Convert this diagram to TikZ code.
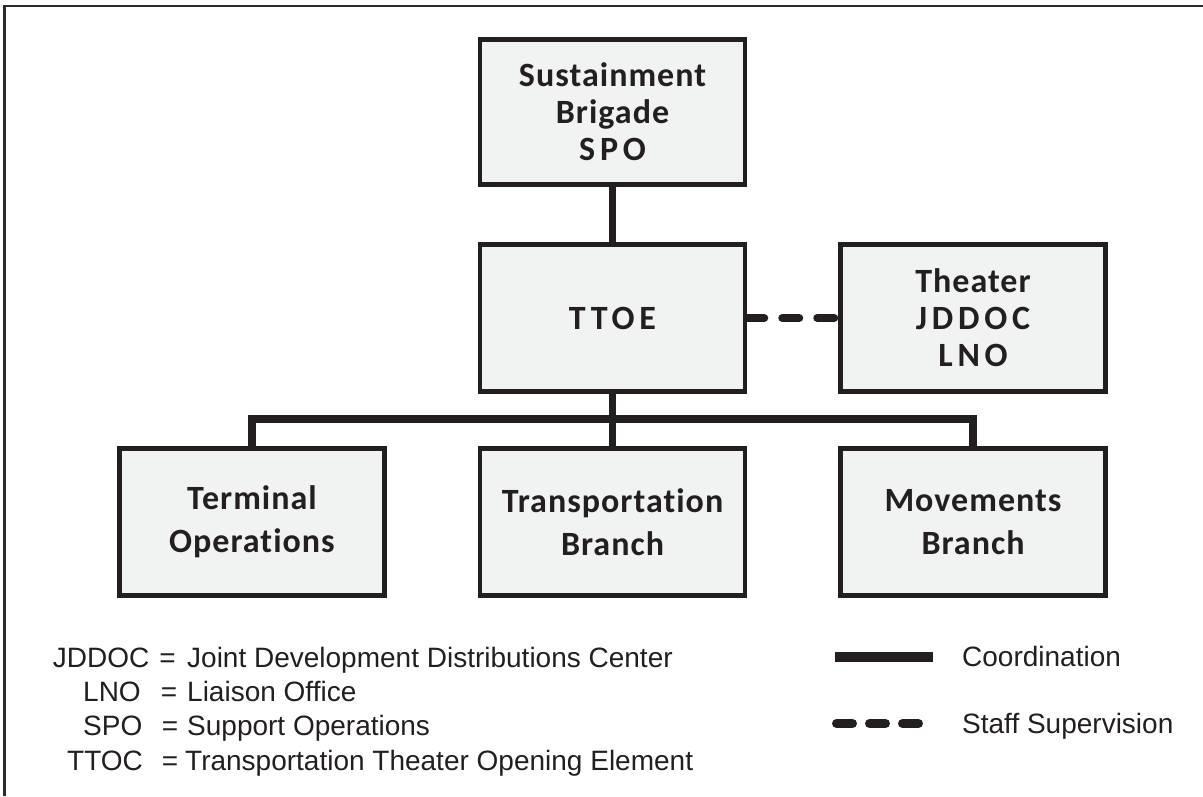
\documentclass[tikz,border=0pt]{standalone}
\usepackage{fontspec}
\setmainfont{Liberation Sans}
\newfontfamily\boxfont[LetterSpace=3,Ligatures=NoCommon]{Carlito}
\newfontfamily\capsfont[LetterSpace=14,Ligatures=NoCommon]{Carlito}
\usetikzlibrary{backgrounds}
\definecolor{ink}{HTML}{231F20}
\definecolor{boxfill}{HTML}{F1F2F2}
\definecolor{framecol}{HTML}{2B2B2B}
\newcommand{\caps}[1]{{\capsfont\bfseries #1}}
\begin{document}
\begin{tikzpicture}[x=1pt,y=-1pt,
  unit/.style={draw=ink, line width=4.5pt, fill=boxfill, minimum width=265pt,
    minimum height=147pt, inner sep=0pt, align=center, text=ink,
    font=\boxfont\bfseries\fontsize{34}{37}\selectfont},
  lowunit/.style={unit, font=\boxfont\bfseries\fontsize{34}{43}\selectfont},
  coordline/.style={draw=ink, line width=7.5pt},
  staffline/.style={draw=ink, line width=8pt, line cap=round, dash pattern=on 17pt off 18pt},
  legtext/.style={text=ink, anchor=base west, inner sep=0pt,
    font=\fontsize{28}{34}\selectfont},
  legeq/.style={legtext, anchor=base},
]
\useasboundingbox (0,0) rectangle (1203,796);

% outer frame (only left and top edges show)
\draw[framecol, line width=2.5pt] (4.5,796) -- (4.5,6) -- (1203,6);

% organisation boxes
\node[unit, minimum height=145pt] (sus) at (612.5,112) {Sustainment\\Brigade\\\caps{SPO}};
\node[unit] (ttoe) at (612.5,318) {\caps{TTOE}};
\node[unit] (thea) at (973,318) {Theater\\\caps{JDDOC}\\\caps{LNO}};
\node[lowunit] (term) at (252,522) {Terminal\\Operations};
\node[lowunit] (trans) at (612.5,522) {Transportation\\Branch};
\node[lowunit] (mov) at (973,522) {Movements\\Branch};

\coordinate (bus) at (612.5,419);

% connectors
\begin{scope}[on background layer]
  \draw[coordline] (sus.south) -- (ttoe.north);
  \draw[coordline] (ttoe.south) -- (trans.north);
  \draw[coordline] (term.north) |- (bus) -| (mov.north);
  \draw[staffline] (ttoe.east) -- (thea.west);
\end{scope}

% abbreviations
\node[legtext] (a1) at (52.7,667) {JDDOC};
\node[legeq]   (e1) at (167.5,667) {=};
\node[legtext] (d1) at (187,667) {Joint Development Distributions Center};
\node[legtext] (a2) at (83,701) {LNO};
\node[legeq]   (e2) at (169,701) {=};
\node[legtext] (d2) at (187,701) {Liaison Office};
\node[legtext] (a3) at (83,735) {SPO};
\node[legeq]   (e3) at (170,735) {=};
\node[legtext] (d3) at (187,735) {Support Operations};
\node[legtext] (a4) at (67,770) {TTOC};
\node[legeq]   (e4) at (170,770) {=};
\node[legtext] (d4) at (185,770) {Transportation Theater Opening Element};

% line key
\coordinate (k1a) at (835,657);
\coordinate (k1b) at (933,657);
\coordinate (k2a) at (836.5,723.5);
\coordinate (k2b) at (918.5,723.5);
\draw[ink, line width=9.5pt] (k1a) -- (k1b);
\draw[ink, line width=9pt, line cap=round, dash pattern=on 16pt off 17pt] (k2a) -- (k2b);
\node[legtext] (l1) at (962,666) {Coordination};
\node[legtext] (l2) at (962,733) {Staff Supervision};
\end{tikzpicture}
\end{document}
